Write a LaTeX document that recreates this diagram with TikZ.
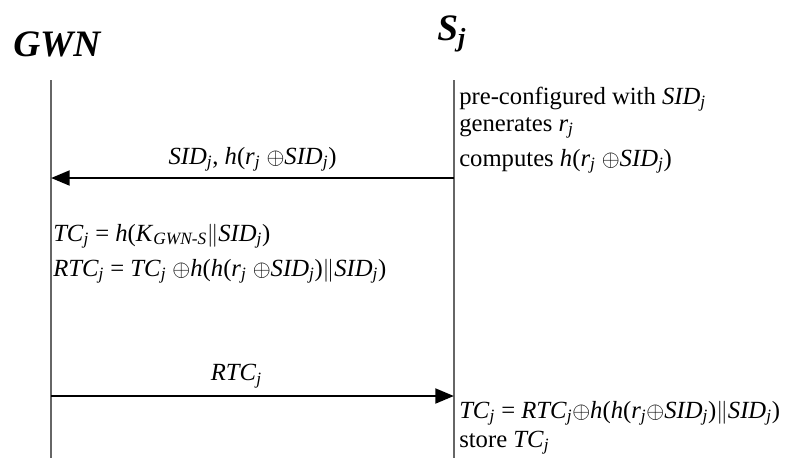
\documentclass[tikz,border=0pt]{standalone}
\usepackage{fontspec}
\setmainfont{Liberation Serif}
\usepackage{tikz}
\usetikzlibrary{arrows.meta,positioning,calc}

\newcommand{\iv}[2]{\textit{#1}\textsubscript{\textit{#2}}}
\newcommand{\xor}{$\oplus$}
\newcommand{\cat}{$\|$}

\begin{document}
\begin{tikzpicture}[
  x=0.75pt,y=-0.75pt,
  every node/.style={font=\fontsize{18.5}{22}\selectfont,inner sep=0pt},
  title/.style={font=\fontsize{28}{32}\selectfont\bfseries\itshape,anchor=base west},
  txt/.style={anchor=base west},
  life/.style={black!60,line width=0.8pt},
  msg/.style={-{Triangle[length=14pt,width=11pt]},line width=2.2pt}
]
\useasboundingbox (0,0) rectangle (785,458);

% entities and their lifelines
\node[title] (gwn) at (13,56) {GWN};
\node[title] (sj) at (437,40) {S\textsubscript{j}};
\coordinate (gtop) at (51,80);
\coordinate (gbot) at (51,458);
\coordinate (stop) at (454,80);
\coordinate (sbot) at (454,458);
\draw[life] (gtop) -- (gbot);
\draw[life] (stop) -- (sbot);

% sensor side, before the first message
\node[txt] (pre) at (459,104) {pre-configured with \iv{SID}{j}};
\node[txt] (gen) at (459,131) {generates \iv{r}{j}};
\node[txt] (cmp) at (459,166) {computes \textit{h}(\iv{r}{j} \xor\iv{SID}{j})};

% message 1
\coordinate (m1a) at (454,178);
\coordinate (m1b) at (51,178);
\draw[msg] (m1a) -- node[above=4pt] (l1) {\iv{SID}{j}, \textit{h}(\iv{r}{j} \xor\iv{SID}{j})} (m1b);

% gateway side
\node[txt] (tc) at (53,241) {\iv{TC}{j} = \textit{h}(\iv{K}{GWN-S}\cat\iv{SID}{j})};
\node[txt] (rtc) at (53,276) {\iv{RTC}{j} = \iv{TC}{j} \xor\textit{h}(\textit{h}(\iv{r}{j} \xor\iv{SID}{j})\cat\iv{SID}{j})};

% message 2
\coordinate (m2a) at (51,396);
\coordinate (m2b) at (454,396);
\draw[msg] (m2a) -- node[above=5pt,pos=0.46] (l2) {\iv{RTC}{j}} (m2b);

% sensor side, after the second message
\node[txt] (tcs) at (459,418) {\iv{TC}{j} = \iv{RTC}{j}\xor\textit{h}(\textit{h}(\iv{r}{j}\xor\iv{SID}{j})\cat\iv{SID}{j})};
\node[txt] (sto) at (459,447) {store \iv{TC}{j}};
\end{tikzpicture}
\end{document}
